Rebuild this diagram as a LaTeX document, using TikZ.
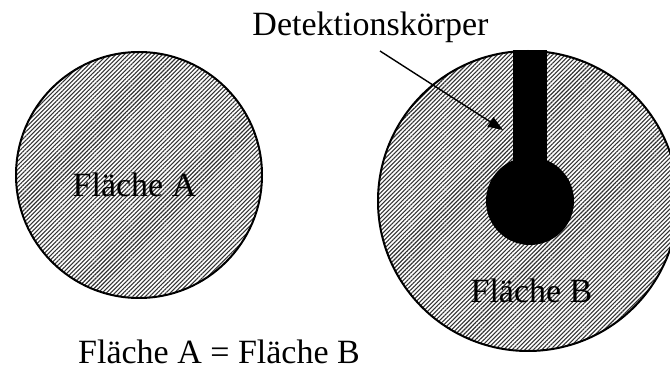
\documentclass[tikz,border=0pt]{standalone}
\usepackage{fontspec}
\setmainfont{Liberation Serif}
\usetikzlibrary{arrows.meta, positioning, patterns.meta}
\tikzset{
  flaeche/.style={circle, draw=black, line width=2pt, inner sep=0pt,
    pattern={Lines[angle=45, distance=3pt, line width=1.1pt]}, pattern color=black!80},
  sonde/.style={fill=black, draw=none, inner sep=0pt},
  beschriftung/.style={font=\fontsize{34}{40}\selectfont, inner sep=0pt, anchor=base},
  zeiger/.style={-{Triangle[length=15pt, width=11pt]}, line width=1.4pt},
}
\begin{document}
\begin{tikzpicture}[x=1pt, y=-1pt]
\clip (0,0) rectangle (670,374);
\fill[white] (0,0) rectangle (670,374);
% die beiden Flaechen
\node[flaeche, minimum size=246pt] (flaecheA) at (139,175) {};
\node[flaeche, minimum size=300pt] (flaecheB) at (528,201) {};
% Detektionskoerper
\node[sonde, minimum width=34pt, minimum height=151pt, anchor=north] (stiel) at (530,50) {};
\node[sonde, circle, minimum size=88pt] (kopf) at (530,201) {};
% Beschriftungen
\node[beschriftung] (textA) at (134.5,197) {Fläche A};
\node[beschriftung] (textB) at (531.5,303) {Fläche B};
\node[beschriftung] (detektor) at (370.5,36) {Detektionskörper};
\node[beschriftung] (gleich) at (219,363) {Fläche A = Fläche B};
% Pfeil
\coordinate (pfeilstart) at (380,51);
\coordinate (pfeilziel) at (503,130);
\draw[zeiger] (pfeilstart) -- (pfeilziel);
\end{tikzpicture}
\end{document}
